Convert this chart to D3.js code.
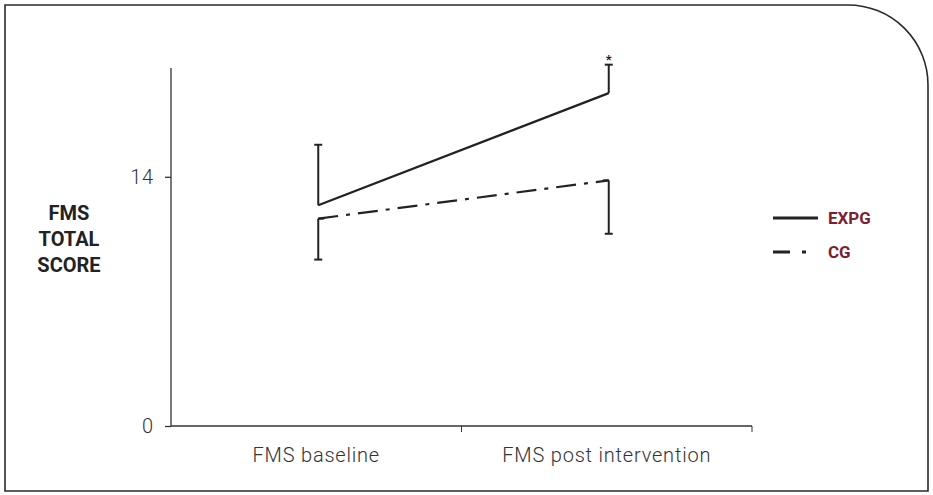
<!DOCTYPE html>
<html>
<head>
<meta charset="utf-8">
<script src="https://cdn.jsdelivr.net/npm/d3@7"></script>
<style>
  body { margin: 0; background: #fff; }
  svg text { font-family: Roboto, "DejaVu Sans", sans-serif; }
</style>
</head>
<body>
<svg id="chart" width="933" height="495"></svg>
<script>
// the data
const categories = ["FMS baseline", "FMS post intervention"];
const expgMean = [12.4, 18.7];
const expgSd = [3.4, 1.6];   // drawn upwards
const cgMean = [11.65, 13.8];
const cgSd = [2.3, 3.0];     // drawn downwards
const yTicks = [0, 14];
const legendNames = ["EXPG", "CG"];

let svg = d3.select("#chart"),
  width = +svg.attr("width"),
  height = +svg.attr("height");

// frame with the rounded corner top right
let r = 80;
svg.append("path")
  .attr("d", `M5,5 H${928 - r} A${r},${r} 0 0 1 928,${5 + r} V491 H5 Z`)
  .attr("fill", "none")
  .attr("stroke", "#2a2a2a")
  .attr("stroke-width", 1.6);

// scales
let x = d3.scaleBand().domain(categories).range([171, 752]);
let y = d3.scaleLinear().domain([0, 20]).range([426, 70]);
let cx = d => x(d) + x.bandwidth() / 2 + 2;

// axes
let yAxis = svg.append("g")
  .attr("transform", "translate(171,0)")
  .call(d3.axisLeft(y).tickValues(yTicks).tickSize(6).tickPadding(11).tickFormat(d3.format("d")));
yAxis.select(".domain").attr("d", `M0,${y(20) - 2}V${y(0)}`);

let xAxis = svg.append("g")
  .attr("transform", `translate(0,${y(0)})`)
  .call(d3.axisBottom(x).tickSize(0).tickPadding(22));
xAxis.select(".domain").attr("d", "M171,0H752");
// ticks at band boundaries
xAxis.selectAll(".bound")
  .data(categories)
  .enter().append("line")
  .attr("x1", d => x(d) + x.bandwidth())
  .attr("x2", d => x(d) + x.bandwidth())
  .attr("y1", 0).attr("y2", 6)
  .attr("stroke", "#333");

svg.selectAll(".domain, .tick line").attr("stroke", "#333").attr("stroke-width", 1.3);
svg.selectAll(".tick text")
  .attr("fill", "#333")
  .style("font-size", "20px")
  .style("font-weight", 300)
  .style("letter-spacing", "0.8px");

// y title
svg.append("text")
  .attr("x", 68).attr("y", 220)
  .attr("text-anchor", "middle")
  .style("font-size", "20px").style("font-weight", 700)
  .attr("fill", "#222")
  .selectAll("tspan")
  .data(["FMS", "TOTAL", "SCORE"])
  .enter().append("tspan")
  .attr("x", 69)
  .attr("dy", (d, i) => i ? 26 : 0)
  .text(d => d);

// error bars
function errBar(px, y1, y2) {
  svg.append("line").attr("x1", px).attr("x2", px).attr("y1", y1).attr("y2", y2)
    .attr("stroke", "#222").attr("stroke-width", 2);
  svg.append("line").attr("x1", px - 4).attr("x2", px + 4).attr("y1", y2).attr("y2", y2)
    .attr("stroke", "#222").attr("stroke-width", 2);
}
categories.forEach((c, i) => {
  errBar(cx(c), y(expgMean[i]), y(expgMean[i] + expgSd[i]));
  errBar(cx(c), y(cgMean[i]), y(cgMean[i] - cgSd[i]));
});

// lines
let line = d3.line().x((d, i) => cx(categories[i])).y(d => y(d));
svg.append("path").datum(expgMean)
  .attr("d", line)
  .attr("fill", "none").attr("stroke", "#222").attr("stroke-width", 2.2);
svg.append("path").datum(cgMean)
  .attr("d", line)
  .attr("fill", "none").attr("stroke", "#222").attr("stroke-width", 2.2)
  .attr("stroke-dasharray", "20,8,4,8");

// caps at the line ends of the CG bars
categories.forEach((c, i) => {
  let dir = i === 0 ? 1 : -1;
  svg.append("line")
    .attr("x1", cx(c)).attr("x2", cx(c) + dir * 6)
    .attr("y1", y(cgMean[i])).attr("y2", y(cgMean[i]))
    .attr("stroke", "#222").attr("stroke-width", 2);
});

// significance star
svg.append("text")
  .attr("x", cx(categories[1])).attr("y", y(expgMean[1] + expgSd[1]) - 1)
  .attr("text-anchor", "middle")
  .style("font-size", "13px").style("font-weight", 700)
  .attr("fill", "#222")
  .text("*");

// legend
let leg = svg.append("g").attr("transform", "translate(773,218)");
leg.selectAll("line.sw")
  .data(legendNames)
  .enter().append("line")
  .attr("class", "sw")
  .attr("x1", 0).attr("x2", 45)
  .attr("y1", (d, i) => i * 34).attr("y2", (d, i) => i * 34)
  .attr("stroke", "#222").attr("stroke-width", 3)
  .attr("stroke-dasharray", (d, i) => i ? "17,12,4,100" : null);
leg.selectAll("text")
  .data(legendNames)
  .enter().append("text")
  .attr("x", 55)
  .attr("y", (d, i) => i * 34 + 6)
  .style("font-size", "17px").style("font-weight", 700)
  .attr("fill", "#7d1f2f")
  .text(d => d);
</script>
</body>
</html>
